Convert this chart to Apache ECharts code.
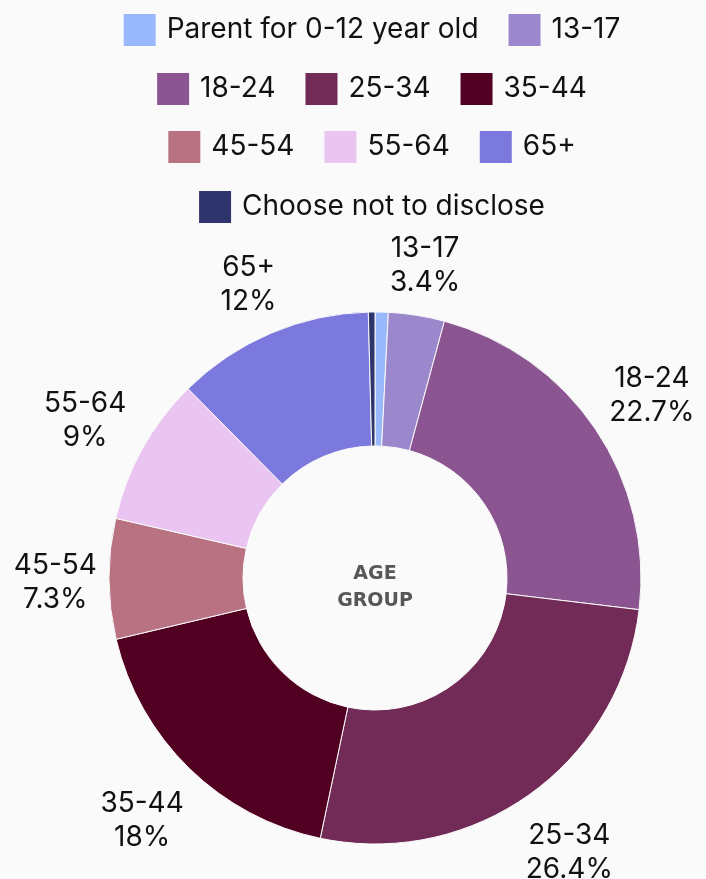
<!DOCTYPE html>
<html>
<head>
<meta charset="utf-8">
<script src="https://cdn.jsdelivr.net/npm/echarts@6/dist/echarts.min.js"></script>
<style>
  html, body { margin: 0; padding: 0; background: #fafafa; overflow: hidden; }
  /* drawing area is a little wider than the window so the legend centres over the donut */
  #chart { width: 742px; height: 879px; }
</style>
</head>
<body>
<div id="chart"></div>
<script>
// Age group shares (%)
const categories = ['Parent for 0-12 year old', '13-17', '18-24', '25-34', '35-44', '45-54', '55-64', '65+', 'Choose not to disclose'];
const shares = [0.8, 3.4, 22.7, 26.4, 18, 7.3, 9, 12, 0.4];
const sliceColors = ['#9ab8fc', '#9a87cc', '#8b5591', '#722b56', '#520021', '#b87282', '#eac5f2', '#7b78de', '#30346c'];

// Legend rows, each centered on its own line
const legendRows = [
  ['Parent for 0-12 year old', '13-17'],
  ['18-24', '25-34', '35-44'],
  ['45-54', '55-64', '65+'],
  ['Choose not to disclose']
];
const legendTops = [12, 71, 129, 189];

const FONT = 'Inter, "Noto Sans", sans-serif';
const CENTER = [375, 578];
const OUTER_R = 266;
const INNER_R = 132;
const LABEL_GAP = 12;   // distance between ring edge and the nearest side of a label box
const LABEL_PAD_Y = 3;  // extra half-height of a label box
const LABEL_SHIFT_Y = 4; // text sits slightly low inside its box

const chart = echarts.init(document.getElementById('chart'));

const sliceData = categories.map((name, i) => ({
  name, value: shares[i], itemStyle: { color: sliceColors[i] }
}));

// Transparent companion ring that carries the value labels
const labelData = categories.map((name, i) => ({
  name, value: shares[i],
  label: { show: shares[i] >= 1 }
}));

// Push each label outward along its slice direction so that its box sits just outside the ring
function placeOutside(params) {
  const r = params.labelRect;
  const hw = r.width / 2, hh = r.height / 2 + LABEL_PAD_Y;
  const cx = r.x + r.width / 2, cy = r.y + r.height / 2;
  const vx = cx - CENTER[0], vy = cy - CENTER[1];
  const len = Math.sqrt(vx * vx + vy * vy) || 1;
  const ux = vx / len, uy = vy / len;
  const dist = OUTER_R + LABEL_GAP + hw * Math.abs(ux) + hh * Math.abs(uy);
  return {
    dx: CENTER[0] + ux * dist - cx,
    dy: CENTER[1] + uy * dist - cy + LABEL_SHIFT_Y
  };
}

chart.setOption({
  backgroundColor: '#fafafa',
  animation: false,
  legend: legendRows.map((row, r) => ({
    data: row,
    top: legendTops[r],
    left: 'center',
    orient: 'horizontal',
    padding: 0,
    icon: 'rect',
    itemWidth: 34,
    itemHeight: 34,
    itemGap: 28,
    selectedMode: false,
    textStyle: { fontFamily: FONT, fontSize: 28, color: '#111', padding: [0, 0, 0, 5] }
  })),
  graphic: [{
    type: 'text',
    x: 375, y: 588,
    style: {
      text: 'AGE\nGROUP',
      align: 'center', verticalAlign: 'middle',
      font: 'bold 19px "DejaVu Sans", sans-serif',
      lineHeight: 27,
      fill: '#575757'
    }
  }],
  series: [
    {
      type: 'pie',
      center: CENTER,
      radius: [INNER_R, OUTER_R],
      startAngle: 90,
      clockwise: true,
      avoidLabelOverlap: false,
      label: { show: false },
      labelLine: { show: false },
      itemStyle: { borderColor: '#fafafa', borderWidth: 1 },
      emphasis: { disabled: true },
      data: sliceData
    },
    {
      type: 'pie',
      center: CENTER,
      radius: [290, 362],
      startAngle: 90,
      clockwise: true,
      silent: true,
      avoidLabelOverlap: false,
      itemStyle: { color: 'transparent' },
      label: {
        show: true,
        position: 'inside',
        formatter: '{b}\n{c}%',
        fontFamily: FONT,
        fontSize: 28,
        lineHeight: 34,
        color: '#111'
      },
      labelLine: { show: false },
      labelLayout: placeOutside,
      emphasis: { disabled: true },
      data: labelData
    }
  ]
});
</script>
</body>
</html>
